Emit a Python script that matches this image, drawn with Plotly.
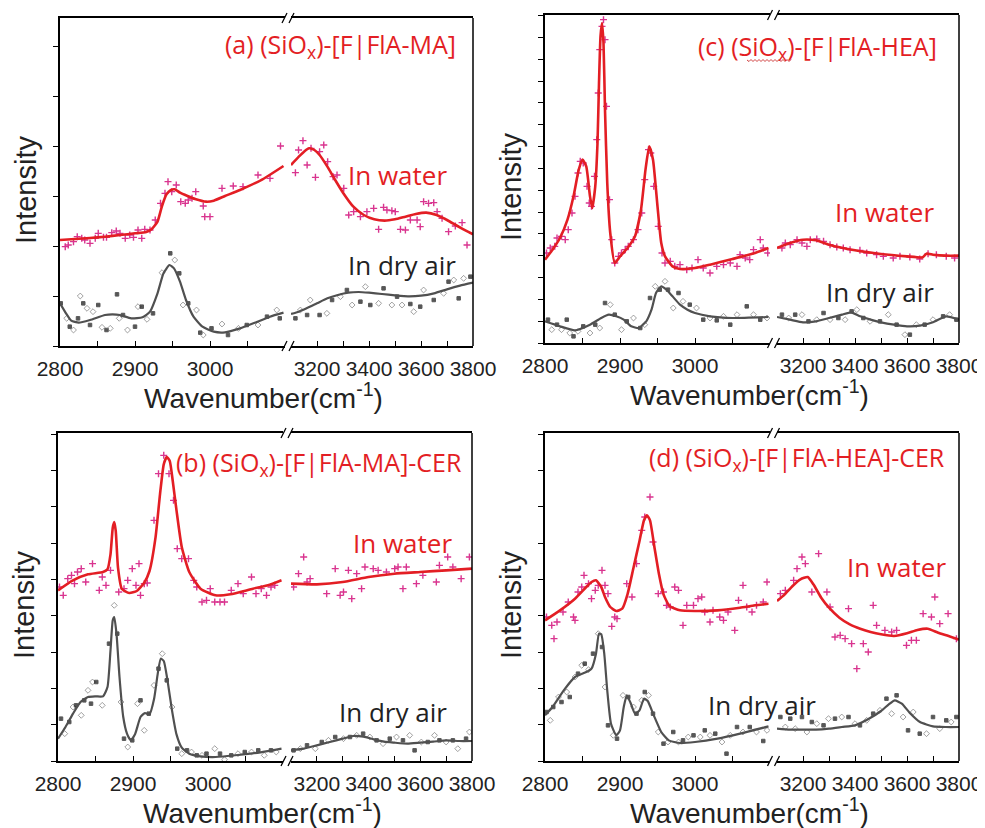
import plotly.graph_objects as go

W, H = 977, 820          # figure size (page has an 8px body margin)
OFF = 8
BREAK = 3100

# ---------------- data (intensity in arbitrary units) ----------------
# Panel (a) (SiOx)-[F|FlA-MA]
A_WATER_LINE_X = [2800, 2820, 2840, 2860, 2880, 2900, 2915, 2922, 2930, 2936, 2942, 2948, 2953, 2960, 2970, 2980, 2995, 3005, 3020, 3040, 3070, 3098,
                  3100, 3130, 3150, 3170, 3190, 3210, 3240, 3270, 3300, 3340, 3380, 3420, 3460, 3500, 3540, 3580, 3620, 3660, 3700, 3740, 3780, 3800]
A_WATER_LINE_Y = [318, 321, 324, 328, 333, 338, 342, 350, 373, 420, 455, 468, 470, 460, 450, 441, 433, 436, 450, 468, 500, 540,
                  543, 568, 583, 593, 588, 573, 538, 498, 460, 418, 393, 380, 376, 380, 388, 396, 400, 393, 378, 360, 343, 335]
A_WATER_PTS_X = [2807, 2811, 2818, 2823, 2829, 2833, 2840, 2847, 2851, 2858, 2862, 2869, 2875, 2880, 2887, 2893, 2898, 2904, 2909, 2913, 2920,
                 2927, 2934, 2940, 2944, 2949, 2955, 2961, 2967, 2971, 2976, 2981, 2991, 2993, 3000, 3016, 3031, 3044, 3064, 3080, 3094,
                 3117, 3129, 3146, 3162, 3177, 3194, 3210, 3226, 3241, 3262, 3277, 3303, 3322, 3341, 3367, 3392, 3418, 3437, 3456, 3469,
                 3488, 3501, 3521, 3540, 3559, 3585, 3597, 3610, 3629, 3649, 3662, 3681, 3706, 3732, 3758, 3777]
A_WATER_PTS_Y = [298, 303, 313, 328, 323, 318, 308, 323, 338, 326, 326, 340, 345, 338, 323, 333, 326, 348, 323, 350, 348,
                 378, 428, 458, 493, 463, 483, 433, 428, 438, 443, 463, 420, 388, 388, 473, 480, 478, 513, 503, 600,
                 520, 588, 616, 543, 593, 506, 583, 603, 553, 508, 513, 473, 393, 403, 388, 403, 413, 350, 416, 408,
                 406, 403, 350, 348, 378, 378, 358, 433, 428, 430, 403, 383, 343, 360, 370, 303]
A_AIR_LINE_X = [2800, 2808, 2815, 2825, 2840, 2860, 2870, 2880, 2895, 2910, 2920, 2930, 2938, 2946, 2952, 2960, 2968, 2978, 2990, 3005, 3020, 3040, 3060, 3080, 3098,
                3100, 3130, 3160, 3200, 3240, 3280, 3320, 3360, 3400, 3450, 3500, 3550, 3600, 3650, 3700, 3750, 3800]
A_AIR_LINE_Y = [128, 98, 76, 70, 78, 93, 95, 93, 83, 86, 103, 158, 218, 243, 233, 193, 138, 88, 58, 43, 41, 53, 70, 88, 100,
                96, 103, 113, 128, 143, 153, 160, 162, 160, 156, 152, 149, 151, 158, 170, 181, 190]
A_AIR_PTS_X = [2801, 2809, 2813, 2818, 2824, 2827, 2831, 2836, 2840, 2844, 2851, 2856, 2862, 2867, 2876, 2879, 2884, 2890, 2900, 2904, 2909,
               2916, 2924, 2936, 2947, 2953, 2959, 2964, 2971, 2982, 2987, 2991, 3002, 3016, 3024, 3038, 3049, 3064, 3076, 3089, 3093,
               3117, 3136, 3162, 3174, 3210, 3238, 3258, 3290, 3315, 3335, 3367, 3386, 3405, 3437, 3456, 3488, 3508, 3527, 3559, 3572,
               3597, 3610, 3649, 3687, 3706, 3726, 3745, 3764, 3790]
A_AIR_PTS_Y = [128, 83, 58, 48, 83, 150, 128, 113, 63, 103, 123, 56, 48, 53, 155, 83, 93, 48, 58, 118, 118,
               80, 98, 220, 278, 258, 218, 123, 128, 108, 40, 33, 53, 66, 33, 53, 63, 63, 88, 108, 83,
               83, 108, 93, 138, 93, 98, 138, 148, 168, 123, 133, 178, 123, 128, 173, 123, 148, 123, 126, 103,
               118, 168, 138, 158, 193, 198, 143, 203, 208]

# Panel (b) (SiOx)-[F|FlA-MA]-CER
B_WATER_LINE_X = [2800, 2820, 2840, 2860, 2866, 2870, 2873, 2875, 2877, 2880, 2885, 2895, 2905, 2915, 2922, 2930, 2936, 2941, 2945, 2949, 2953, 2958,
                  2965, 2975, 2990, 3010, 3030, 3060, 3080, 3098,
                  3100, 3200, 3300, 3400, 3500, 3600, 3700, 3800]
B_WATER_LINE_Y = [512, 542, 560, 567, 575, 620, 700, 717, 690, 580, 517, 504, 510, 535, 570, 670, 800, 890, 912, 900, 840, 752,
                  642, 567, 517, 497, 500, 517, 527, 542,
                  532, 530, 537, 552, 562, 567, 572, 577]
B_WATER_PTS_X = [2802, 2807, 2813, 2818, 2822, 2826, 2831, 2837, 2846, 2855, 2859, 2864, 2870, 2881, 2888, 2893, 2899, 2904, 2908, 2910, 2915,
                 2919, 2928, 2934, 2941, 2948, 2954, 2959, 2965, 2974, 2981, 2985, 2992, 2998, 3003, 3009, 3016, 3022, 3031, 3040, 3047,
                 3058, 3064, 3071, 3078, 3084, 3089,
                 3110, 3129, 3149, 3162, 3174, 3238, 3271, 3290, 3303, 3322, 3335, 3354, 3373, 3386, 3418, 3437, 3469, 3501, 3514, 3533,
                 3546, 3585, 3610, 3662, 3674, 3706, 3726, 3758, 3790]
B_WATER_PTS_Y = [522, 497, 547, 557, 532, 567, 577, 537, 592, 512, 552, 527, 572, 507, 517, 542, 577, 527, 592, 497, 532,
                 534, 722, 862, 917, 862, 782, 637, 607, 607, 542, 522, 477, 482, 517, 477, 477, 477, 512, 532, 502,
                 552, 502, 517, 497, 522, 527,
                 522, 562, 612, 537, 547, 502, 577, 497, 507, 572, 487, 562, 517, 582, 577, 572, 567, 577, 582, 517,
                 582, 532, 557, 537, 587, 612, 582, 547, 612]
B_AIR_LINE_X = [2800, 2810, 2820, 2830, 2840, 2850, 2860, 2866, 2870, 2873, 2875, 2878, 2882, 2887, 2892, 2897, 2903, 2910, 2916, 2922, 2928,
                2933, 2937, 2941, 2946, 2952, 2958, 2965, 2975, 2990, 3010, 3040, 3070, 3098,
                3100, 3150, 3200, 3250, 3300, 3340, 3380, 3420, 3460, 3500, 3550, 3600, 3650, 3700, 3750, 3800]
B_AIR_LINE_Y = [67, 102, 142, 177, 192, 194, 194, 222, 332, 422, 432, 382, 252, 132, 82, 62, 82, 132, 144, 140, 185,
                262, 307, 300, 242, 152, 80, 40, 22, 14, 12, 18, 26, 37,
                32, 37, 47, 57, 67, 75, 73, 65, 58, 55, 52, 55, 58, 62, 60, 60]
B_AIR_PTS_X = [2804, 2809, 2815, 2820, 2824, 2831, 2835, 2840, 2844, 2846, 2851, 2859, 2868, 2875, 2879, 2884, 2888, 2893, 2899, 2906, 2910,
               2915, 2921, 2928, 2934, 2939, 2945, 2952, 2959, 2965, 2972, 2978, 2985, 2992, 2998, 3009, 3016, 3022, 3031, 3040, 3049,
               3058, 3067, 3075, 3084, 3091,
               3110, 3136, 3162, 3194, 3219, 3245, 3271, 3303, 3328, 3354, 3379, 3405, 3431, 3456, 3482, 3508, 3533, 3559, 3578, 3604,
               3629, 3655, 3674, 3700, 3726, 3745, 3777, 3790]
B_AIR_PTS_Y = [127, 82, 117, 162, 167, 137, 182, 212, 172, 237, 237, 167, 352, 467, 382, 177, 67, 42, 62, 172, 182,
               92, 142, 227, 277, 322, 242, 162, 37, 22, 32, 27, 17, 17, 22, 37, 22, 4, 17, 22, 27,
               27, 32, 17, 32, 27,
               32, 37, 47, 37, 57, 62, 72, 67, 72, 77, 82, 72, 62, 52, 67, 72, 62, 77, 32, 57,
               57, 77, 62, 57, 62, 37, 67, 87]

# Panel (c) (SiOx)-[F|FlA-HEA]
C_WATER_LINE_X = [2800, 2810, 2820, 2830, 2838, 2845, 2850, 2855, 2860, 2863, 2867, 2870, 2872, 2874, 2876, 2878, 2880, 2883, 2887, 2893, 2900,
                  2910, 2920, 2928, 2934, 2939, 2944, 2950, 2955, 2960, 2970, 2980, 3000, 3020, 3050, 3080, 3098,
                  3100, 3150, 3200, 3250, 3300, 3400, 3500, 3600, 3660, 3675, 3700, 3750, 3800]
C_WATER_LINE_Y = [250, 280, 315, 370, 440, 520, 550, 530, 440, 405, 470, 600, 780, 920, 960, 900, 700, 480, 330, 240, 260,
                  285, 320, 400, 520, 590, 550, 410, 300, 260, 230, 222, 225, 235, 252, 270, 285,
                  285, 300, 310, 308, 295, 278, 267, 260, 257, 268, 265, 262, 262]
C_WATER_PTS_X = [2802, 2807, 2813, 2816, 2822, 2827, 2831, 2836, 2840, 2844, 2847, 2851, 2856, 2859, 2862, 2866, 2869, 2871, 2873, 2876, 2878,
                 2880, 2882, 2886, 2889, 2893, 2898, 2902, 2907, 2911, 2918, 2924, 2929, 2933, 2938, 2941, 2945, 2951, 2956, 2960, 2967,
                 2973, 2980, 2989, 2996, 3004, 3011, 3020, 3029, 3038, 3047, 3056, 3060, 3067, 3073, 3078, 3087, 3091, 3097,
                 3119, 3132, 3151, 3177, 3196, 3215, 3228, 3253, 3279, 3304, 3330, 3355, 3381, 3419, 3445, 3483, 3509, 3547, 3573, 3611,
                 3649, 3681, 3713, 3751, 3783]
C_WATER_PTS_Y = [270, 285, 290, 315, 320, 310, 340, 390, 440, 510, 545, 540, 470, 420, 410, 500, 610, 750, 880, 950, 970,
                 910, 710, 430, 310, 240, 260, 270, 280, 290, 310, 340, 390, 490, 580, 570, 470, 350, 270, 240, 245,
                 230, 235, 220, 225, 250, 225, 210, 230, 235, 240, 230, 265, 255, 250, 280, 310, 285, 270,
                 285, 300, 295, 310, 300, 290, 310, 312, 305, 295, 288, 285, 280, 278, 270, 265, 260, 255, 260, 258,
                 252, 268, 265, 260, 255]
C_AIR_LINE_X = [2800, 2820, 2840, 2860, 2875, 2885, 2895, 2905, 2915, 2925, 2935, 2942, 2948, 2955, 2962, 2970, 2980, 2990, 3000, 3020, 3050, 3098,
                3100, 3150, 3200, 3250, 3300, 3350, 3385, 3420, 3460, 3500, 3550, 3600, 3650, 3700, 3750, 3800]
C_AIR_LINE_Y = [65, 50, 38, 55, 75, 85, 80, 70, 50, 45, 65, 100, 150, 170, 160, 140, 115, 100, 90, 80, 75, 78,
                78, 70, 62, 65, 75, 85, 92, 80, 70, 62, 55, 50, 52, 62, 80, 70]
C_AIR_PTS_X = [2804, 2809, 2816, 2822, 2829, 2833, 2838, 2844, 2851, 2860, 2867, 2873, 2880, 2887, 2893, 2902, 2909, 2918, 2927, 2933, 2940,
               2947, 2953, 2960, 2964, 2971, 2978, 2984, 2993, 3002, 3011, 3020, 3029, 3038, 3047, 3056, 3069, 3078, 3087, 3096,
               3119, 3145, 3170, 3196, 3221, 3253, 3279, 3304, 3336, 3362, 3387, 3407, 3432, 3458, 3496, 3528, 3560, 3592, 3611, 3636,
               3668, 3700, 3739, 3764, 3790]
C_AIR_PTS_Y = [70, 40, 55, 40, 70, 30, 20, 35, 50, 30, 55, 45, 120, 115, 85, 40, 65, 75, 45, 55, 135,
               170, 160, 185, 160, 105, 150, 125, 115, 105, 70, 75, 68, 80, 55, 85, 110, 85, 70, 75,
               85, 75, 85, 85, 65, 70, 90, 70, 75, 70, 95, 100, 75, 65, 65, 85, 55, 25, 25, 55,
               55, 70, 80, 85, 70]

# Panel (d) (SiOx)-[F|FlA-HEA]-CER
D_WATER_LINE_X = [2800, 2820, 2840, 2855, 2862, 2868, 2875, 2880, 2887, 2895, 2903, 2910, 2918, 2926, 2932, 2936, 2940, 2946, 2952, 2958, 2966,
                  2980, 3000, 3030, 3060, 3080, 3098,
                  3100, 3130, 3160, 3190, 3218, 3240, 3270, 3300, 3340, 3380, 3420, 3460, 3500, 3550, 3600, 3640, 3680, 3720, 3760, 3800]
D_WATER_LINE_Y = [422, 452, 487, 522, 537, 542, 522, 492, 462, 450, 457, 500, 580, 660, 722, 737, 722, 640, 560, 500, 465,
                  452, 450, 452, 460, 467, 472,
                  480, 500, 525, 545, 552, 530, 490, 460, 430, 410, 397, 387, 380, 375, 383, 393, 397, 385, 375, 364]
D_WATER_PTS_X = [2802, 2809, 2812, 2816, 2824, 2831, 2838, 2840, 2844, 2849, 2852, 2858, 2862, 2867, 2871, 2876, 2880, 2884, 2889, 2893, 2896,
                 2909, 2916, 2922, 2929, 2933, 2940, 2944, 2951, 2958, 2962, 2967, 2973, 2978, 2984, 2989, 2998, 3004, 3009, 3013, 3020,
                 3024, 3033, 3038, 3044, 3053, 3058, 3064, 3069, 3076, 3082, 3091, 3096,
                 3113, 3132, 3164, 3177, 3196, 3209, 3234, 3260, 3292, 3304, 3323, 3343, 3362, 3375, 3387, 3407, 3432, 3451, 3470, 3483,
                 3515, 3541, 3560, 3598, 3617, 3636, 3662, 3694, 3707, 3726, 3758, 3790]
D_WATER_PTS_Y = [432, 407, 367, 417, 447, 477, 432, 422, 507, 522, 557, 532, 487, 512, 527, 572, 527, 502, 404, 432, 427,
                 532, 492, 592, 692, 732, 792, 657, 502, 507, 467, 462, 522, 512, 407, 467, 467, 487, 492, 447, 417,
                 452, 432, 422, 447, 392, 482, 527, 462, 447, 467, 477, 537,
                 502, 512, 542, 577, 612, 592, 507, 622, 507, 462, 372, 377, 367, 457, 352, 277, 352, 327, 467, 407,
                 392, 387, 392, 347, 362, 362, 442, 432, 492, 412, 442, 367]
D_AIR_LINE_X = [2800, 2810, 2825, 2840, 2855, 2862, 2868, 2872, 2875, 2879, 2883, 2888, 2895, 2900, 2905, 2909, 2914, 2920, 2926, 2932, 2937,
                2945, 2955, 2965, 2980, 3000, 3030, 3060, 3098,
                3100, 3150, 3200, 3250, 3300, 3350, 3400, 3450, 3500, 3530, 3553, 3580, 3610, 3650, 3700, 3750, 3800]
D_AIR_LINE_Y = [137, 162, 212, 252, 267, 277, 322, 382, 380, 322, 212, 112, 77, 92, 162, 197, 175, 142, 152, 187, 180,
                137, 87, 62, 54, 57, 67, 82, 104,
                97, 94, 94, 94, 97, 102, 107, 125, 150, 170, 182, 172, 145, 117, 104, 102, 102]
D_AIR_PTS_X = [2802, 2807, 2811, 2818, 2822, 2829, 2833, 2840, 2844, 2849, 2853, 2858, 2864, 2871, 2876, 2880, 2884, 2891, 2896, 2904, 2911,
               2918, 2922, 2929, 2933, 2938, 2944, 2951, 2958, 2964, 2971, 2978, 2984, 2991, 2998, 3007, 3013, 3020, 3027, 3036, 3042,
               3047, 3056, 3064, 3073, 3082, 3091, 3096,
               3113, 3132, 3151, 3170, 3196, 3215, 3234, 3253, 3279, 3298, 3323, 3349, 3375, 3400, 3419, 3445, 3470, 3496, 3521, 3541,
               3560, 3585, 3604, 3624, 3649, 3675, 3700, 3726, 3751, 3770, 3790]
D_AIR_PTS_Y = [147, 122, 162, 192, 177, 207, 192, 252, 262, 287, 292, 274, 322, 382, 342, 222, 107, 77, 67, 197, 192,
               162, 142, 182, 207, 197, 142, 87, 52, 57, 87, 57, 62, 72, 77, 72, 92, 77, 82, 57, 22,
               77, 102, 87, 102, 87, 60, 92,
               132, 102, 127, 97, 132, 87, 117, 112, 107, 127, 127, 132, 132, 112, 107, 122, 142, 152, 187, 142,
               197, 132, 92, 147, 82, 82, 132, 97, 122, 117, 132]

LEFT_TICKS = [2800, 2900, 3000]
LEFT_MINOR = [2850, 2950, 3050]
RIGHT_TICKS = [3200, 3400, 3600, 3800]
RIGHT_MINOR = [3300, 3500, 3700]

PANELS = [
    dict(title="(a) (SiO<sub>x</sub>)-[F|FlA-MA]", xl=(60, 285), xr=(291, 473), y=(18, 346), dtick=150,
         wl=(A_WATER_LINE_X, A_WATER_LINE_Y), wp=(A_WATER_PTS_X, A_WATER_PTS_Y),
         al=(A_AIR_LINE_X, A_AIR_LINE_Y), ap=(A_AIR_PTS_X, A_AIR_PTS_Y),
         tpos=(458, 45), wpos=(449, 175), apos=(458, 265), squiggle=None),
    dict(title="(b) (SiO<sub>x</sub>)-[F|FlA-MA]-CER", xl=(58, 283), xr=(291, 472), y=(433, 761), dtick=109,
         wl=(B_WATER_LINE_X, B_WATER_LINE_Y), wp=(B_WATER_PTS_X, B_WATER_PTS_Y),
         al=(B_AIR_LINE_X, B_AIR_LINE_Y), ap=(B_AIR_PTS_X, B_AIR_PTS_Y),
         tpos=(464, 463), wpos=(454, 543), apos=(449, 712), squiggle=None),
    dict(title="(c) (SiO<sub>x</sub>)-[F|FlA-HEA]", xl=(545, 770), xr=(777, 959), y=(15, 343), dtick=65.5,
         wl=(C_WATER_LINE_X, C_WATER_LINE_Y), wp=(C_WATER_PTS_X, C_WATER_PTS_Y),
         al=(C_AIR_LINE_X, C_AIR_LINE_Y), ap=(C_AIR_PTS_X, C_AIR_PTS_Y),
         tpos=(939, 47), wpos=(936, 212), apos=(936, 292), squiggle=(747, 790, 60)),
    dict(title="(d) (SiO<sub>x</sub>)-[F|FlA-HEA]-CER", xl=(545, 770), xr=(777, 959), y=(433, 761), dtick=109,
         wl=(D_WATER_LINE_X, D_WATER_LINE_Y), wp=(D_WATER_PTS_X, D_WATER_PTS_Y),
         al=(D_AIR_LINE_X, D_AIR_LINE_Y), ap=(D_AIR_PTS_X, D_AIR_PTS_Y),
         tpos=(947, 458), wpos=(948, 567), apos=(818, 705), squiggle=None),
]

RED = "#e31e24"
MAGENTA = "#d9348f"
GRAY = "#505050"
TXT_FONT = "Open Sans, Calibri, sans-serif"
AX_FONT = "Arial, Liberation Sans, sans-serif"


def fx(p):
    return (p - OFF) / W


def fy(p):
    return 1 - (p - OFF) / H


def axid(n):
    return "" if n == 1 else str(n)


def split(xs, ys):
    l = [(x, y) for x, y in zip(xs, ys) if x < BREAK]
    r = [(x, y) for x, y in zip(xs, ys) if x >= BREAK]
    return l, r


fig = go.Figure()
layout = dict(width=W, height=H, margin=dict(l=0, r=0, t=0, b=0, pad=0, autoexpand=False), showlegend=False,
              plot_bgcolor="white", paper_bgcolor="white")
shapes = []
annotations = []

for i, p in enumerate(PANELS):
    nl, nr, ny = 2 * i + 1, 2 * i + 2, i + 1
    xa_l, xa_r, ya = "x" + axid(nl), "x" + axid(nr), "y" + axid(ny)
    common_x = dict(showline=True, linecolor="black", linewidth=1.5, mirror=True, ticks="inside",
                    ticklen=5, tickwidth=1.2, tickcolor="black", showgrid=False, zeroline=False,
                    tickfont=dict(family=AX_FONT, size=21, color="#222"), anchor=ya, ticklabelstandoff=3,
                    tickangle=0, automargin=False, tickmode="array")
    layout["xaxis" + axid(nl)] = dict(common_x, domain=[fx(p["xl"][0]), fx(p["xl"][1])], range=[2800, BREAK],
                                      tickvals=LEFT_TICKS, ticktext=[str(v) for v in LEFT_TICKS],
                                      minor=dict(tickmode="array", tickvals=LEFT_MINOR, ticks="inside", ticklen=5,
                                                 tickwidth=1.2, tickcolor="black", showgrid=False))
    layout["xaxis" + axid(nr)] = dict(common_x, domain=[fx(p["xr"][0]), fx(p["xr"][1])], range=[BREAK, 3800],
                                      tickvals=RIGHT_TICKS, ticktext=[str(v) for v in RIGHT_TICKS],
                                      minor=dict(tickmode="array", tickvals=RIGHT_MINOR, ticks="inside", ticklen=5,
                                                 tickwidth=1.2, tickcolor="black", showgrid=False))
    layout["yaxis" + axid(ny)] = dict(domain=[fy(p["y"][1]), fy(p["y"][0])], range=[0, 984], anchor=xa_l,
                                      showline=True, linecolor="black", linewidth=1.5, ticks="outside",
                                      ticklen=5, tickwidth=1.2, tickcolor="black", tick0=0, dtick=p["dtick"],
                                      showticklabels=False, showgrid=False, zeroline=False, automargin=False)

    for seg, xa in ((0, xa_l), (1, xa_r)):
        # water scatter
        pts = split(*p["wp"])[seg]
        fig.add_trace(go.Scatter(x=[a for a, b in pts], y=[b for a, b in pts], xaxis=xa, yaxis=ya, mode="markers",
                                 marker=dict(symbol="cross-thin-open", size=5, color=MAGENTA,
                                             line=dict(color=MAGENTA, width=1.4)),
                                 hoverinfo="skip"))
        # air scatter
        pts = split(*p["ap"])[seg]
        syms = ["square" if k % 2 == 0 else "diamond-open" for k in range(len(pts))]
        cols = ["#111111" if k % 2 == 0 else "#777777" for k in range(len(pts))]
        sizes = [3.5 if k % 2 == 0 else 4.5 for k in range(len(pts))]
        fig.add_trace(go.Scatter(x=[a for a, b in pts], y=[b for a, b in pts], xaxis=xa, yaxis=ya, mode="markers",
                                 marker=dict(symbol=syms, size=sizes, color=cols, line=dict(color=cols, width=1)),
                                 hoverinfo="skip"))
        # lines
        ln = split(*p["al"])[seg]
        fig.add_trace(go.Scatter(x=[a for a, b in ln], y=[b for a, b in ln], xaxis=xa, yaxis=ya, mode="lines",
                                 line=dict(color=GRAY, width=2.2, shape="spline", smoothing=0.5), hoverinfo="skip"))
        ln = split(*p["wl"])[seg]
        fig.add_trace(go.Scatter(x=[a for a, b in ln], y=[b for a, b in ln], xaxis=xa, yaxis=ya, mode="lines",
                                 line=dict(color=RED, width=2.6, shape="spline", smoothing=0.5), hoverinfo="skip"))

    # right border
    shapes.append(dict(type="line", xref="paper", yref="paper", x0=fx(p["xr"][1]), x1=fx(p["xr"][1]),
                       y0=fy(p["y"][0]), y1=fy(p["y"][1]), line=dict(color="black", width=1.5)))
    # break marks
    g = (p["xl"][1] + p["xr"][0]) / 2
    for yy in (p["y"][0], p["y"][1]):
        for off in (-3.5, 3.5):
            cx = g + off
            shapes.append(dict(type="line", xref="paper", yref="paper", x0=fx(cx - 2.5), x1=fx(cx + 2.5),
                               y0=fy(yy + 5), y1=fy(yy - 5), line=dict(color="black", width=1.3)))
    # spell-check style wavy underline seen in the reference title
    if p["squiggle"]:
        sx0, sx1, sy = p["squiggle"]
        path = f"M {fx(sx0)} {fy(sy)}"
        k = 0
        xx = sx0
        while xx < sx1:
            xx += 2
            k += 1
            path += f" L {fx(xx)} {fy(sy + (1.5 if k % 2 else -0.5))}"
        shapes.append(dict(type="path", xref="paper", yref="paper", path=path,
                           line=dict(color="#d04040", width=1)))

    # texts
    annotations.append(dict(text=p["title"], x=fx(p["tpos"][0]), y=fy(p["tpos"][1]), xref="paper", yref="paper",
                            xanchor="right", yanchor="middle", showarrow=False,
                            font=dict(family=TXT_FONT, size=25, color=RED)))
    annotations.append(dict(text="In water", x=fx(p["wpos"][0]), y=fy(p["wpos"][1]), xref="paper", yref="paper",
                            xanchor="right", yanchor="middle", showarrow=False,
                            font=dict(family=TXT_FONT, size=26, color=RED)))
    annotations.append(dict(text="In dry air", x=fx(p["apos"][0]), y=fy(p["apos"][1]), xref="paper", yref="paper",
                            xanchor="right", yanchor="middle", showarrow=False,
                            font=dict(family=TXT_FONT, size=26, color="#222")))
    cx = (p["xl"][0] + p["xr"][1]) / 2 - 3
    annotations.append(dict(text="Wavenumber(cm<sup>-1</sup>)", x=fx(cx), y=fy(p["y"][1] + 50), xref="paper",
                            yref="paper", xanchor="center", yanchor="middle", showarrow=False,
                            font=dict(family=AX_FONT, size=28, color="#222")))
    annotations.append(dict(text="Intensity", x=fx(p["xl"][0] - 34), y=fy((p["y"][0] + p["y"][1]) / 2 + 8),
                            xref="paper", yref="paper", xanchor="center", yanchor="middle", showarrow=False,
                            textangle=-90, font=dict(family=AX_FONT, size=29, color="#222")))

layout["shapes"] = shapes
layout["annotations"] = annotations
fig.update_layout(**layout)
fig.write_html("out.html")
